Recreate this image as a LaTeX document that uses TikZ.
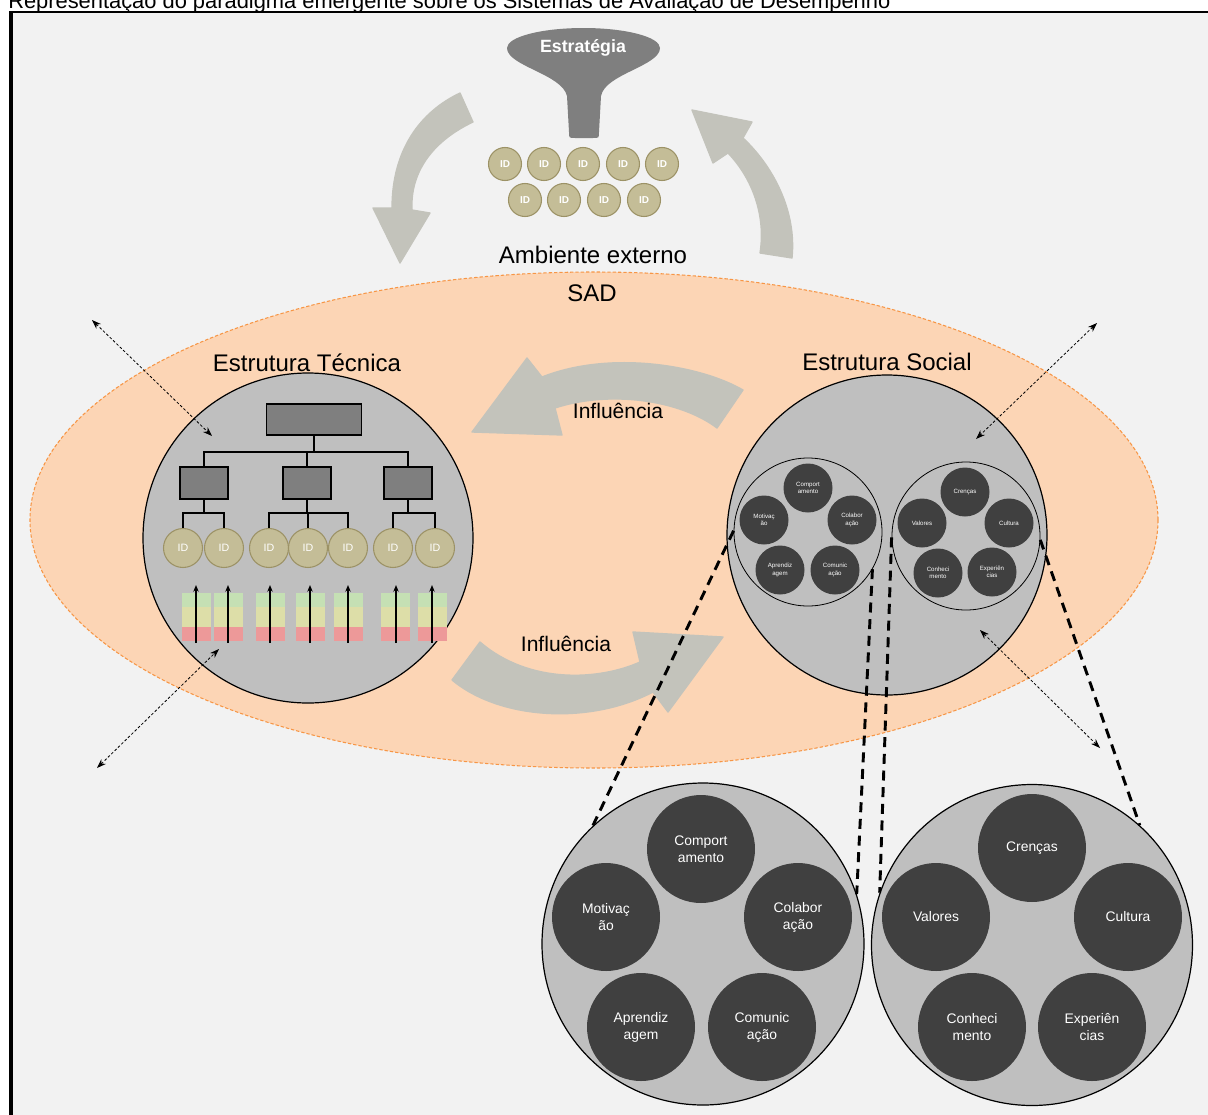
\documentclass[tikz,border=0pt]{standalone}
\usepackage{fontspec}
\setmainfont{Liberation Sans}
\usetikzlibrary{arrows.meta,calc}
\definecolor{bgc}{HTML}{F2F2F2}
\definecolor{peach}{HTML}{FCD5B5}
\definecolor{orangeb}{HTML}{F79646}
\definecolor{arrowg}{HTML}{C3C3BB}
\definecolor{circg}{HTML}{BFBFBF}
\definecolor{darkc}{HTML}{404040}
\definecolor{boxg}{HTML}{7F7F7F}
\definecolor{idfill}{HTML}{C4BD97}
\definecolor{idline}{HTML}{9C9266}
\definecolor{barg}{HTML}{C5E0B4}
\definecolor{bary}{HTML}{DDDEA8}
\definecolor{barr}{HTML}{ED9999}
\begin{document}
\begin{tikzpicture}[x=0.75pt,y=-0.75pt,
  idtop/.style={circle,fill=idfill,draw=idline,line width=0.8pt,minimum size=33*0.75pt,inner sep=0pt,text=white,font=\fontsize{7.5}{8}\selectfont\bfseries},
  idtech/.style={circle,fill=idfill,draw=idline,line width=0.8pt,minimum size=39*0.75pt,inner sep=0pt,text=white,font=\fontsize{8}{9}\selectfont},
  orgbox/.style={rectangle,fill=boxg,draw=black,line width=1pt,inner sep=0pt},
  bigcirc/.style={circle,fill=circg,draw=black,line width=0.9pt,inner sep=0pt},
  ring/.style={circle,draw=black,line width=0.6pt,inner sep=0pt},
  dks/.style={circle,fill=darkc,minimum size=49*0.75pt,inner sep=0pt,text=white,align=center,font=\fontsize{4.6}{5.4}\selectfont},
  dkb/.style={circle,fill=darkc,minimum size=108*0.75pt,inner sep=0pt,text=white,align=center,font=\fontsize{10.4}{12.75}\selectfont},
  lbl/.style={inner sep=0pt,font=\fontsize{18}{20}\selectfont},
  infl/.style={inner sep=0pt,font=\fontsize{15.8}{18}\selectfont},
  garrow/.style={fill=arrowg,draw=arrowg,line width=1pt,line join=round},
  zoomline/.style={draw=black,line width=2.2pt,dash pattern=on 7.5pt off 5pt},
  dotarr/.style={draw=black,line width=0.6pt,dash pattern=on 2pt off 1.5pt,{Stealth[length=7pt,width=5pt]}-{Stealth[length=7pt,width=5pt]}},
  orgline/.style={draw=black,line width=1pt}
]
\useasboundingbox (0,0) rectangle (1208,1115);
\clip (0,0) rectangle (1208,1115);
\fill[white] (0,0) rectangle (1208,1115);
\node[anchor=base west,inner sep=0pt] (title) at (8,8) {\fontsize{16.4}{18}\selectfont Representação do paradigma emergente sobre os Sistemas de Avaliação de Desempenho};
\draw[fill=bgc,line width=1.5pt] (11,11.5) rectangle (1240,1140);
\draw[line width=2.3pt] (11,11) -- (11,1140);

% top curved arrows
\path[garrow] (460,93) .. controls (420,112) and (392,150) .. (392,208) -- (373,208) -- (400,263) -- (430,213) -- (412,210) .. controls (410,170) and (435,140) .. (473,122) -- cycle;
\path[garrow] (760,253) .. controls (766,215) and (752,178) .. (728,153) -- (713,163) -- (692,110) -- (752,122) -- (743,138) .. controls (772,165) and (797,210) .. (792,258) -- cycle;

% funnel
\fill[boxg] (507,48) .. controls (507,37) and (541,28) .. (583.5,28) .. controls (626,28) and (660,37) .. (660,48)
  .. controls (660,66) and (605,74) .. (601,96) -- (599,132) .. controls (599,138) .. (593,138) -- (575,138)
  .. controls (569,138) .. (569,132) -- (567,96) .. controls (562,74) and (507,66) .. (507,48) -- cycle;
\node[inner sep=0pt,text=white,font=\fontsize{13.3}{15}\selectfont\bfseries] (estr) at (583,48) {Estratégia};

% top IDs
\foreach \i/\xx in {1/505,2/544,3/583,4/623,5/662} {\node[idtop] (ta\i) at (\xx,164) {ID};}
\foreach \i/\xx in {1/525,2/564,3/604,4/644} {\node[idtop] (tb\i) at (\xx,200) {ID};}

\node[lbl] (amb) at (593,255) {Ambiente externo};

% SAD ellipse
\draw[fill=peach,draw=orangeb,line width=0.8pt,dash pattern=on 2.5pt off 1.5pt] (594,520) ellipse [x radius=564, y radius=248];
\node[lbl] (sad) at (592,293) {SAD};

% influence arrows
\path[garrow] (743,390) .. controls (700,365) and (610,350) .. (542,377) -- (527,358) -- (472,432) -- (562,435) -- (555,408) .. controls (610,390) and (680,400) .. (717,428) -- cycle;
\path[garrow] (480,642) .. controls (530,685) and (600,680) .. (640,662) -- (633,632) -- (723,637) -- (668,712) -- (653,692) .. controls (590,725) and (500,720) .. (452,680) -- cycle;
\node[infl] (inf1) at (618,411) {Influência};
\node[infl] (inf2) at (566,644) {Influência};

% technical structure
\node[lbl] (tecl) at (307,363) {Estrutura Técnica};
\node[bigcirc,minimum size=330*0.75pt] (tech) at (308,538) {};
\node[orgbox,minimum width=95*0.75pt,minimum height=31*0.75pt] (top) at (314,419.5) {};
\node[orgbox,minimum width=48*0.75pt,minimum height=32*0.75pt] (m1) at (204,483) {};
\node[orgbox,minimum width=48*0.75pt,minimum height=32*0.75pt] (m2) at (307,483) {};
\node[orgbox,minimum width=48*0.75pt,minimum height=32*0.75pt] (m3) at (408,483) {};
\foreach \i/\xx in {1/183,2/224,3/269,4/308,5/348,6/393,7/435} {\node[idtech] (i\i) at (\xx,548) {ID};}
\coordinate (j0) at (314,452);
\coordinate (j1) at (204,513);
\coordinate (j2) at (307,513);
\coordinate (j3) at (408,513);
\draw[orgline] (top.south) -- (j0);
\draw[orgline] (m1.north) |- (j0) -| (m3.north);
\draw[orgline] (m2.north) -- (m2.north |- j0);
\draw[orgline] (m1.south) -- (j1);
\draw[orgline] (i1.north) |- (j1) -| (i2.north);
\draw[orgline] (m2.south) -- (j2);
\draw[orgline] (i3.north) |- (j2) -| (i5.north);
\draw[orgline] (i4.north) -- (i4.north |- j2);
\draw[orgline] (m3.south) -- (j3);
\draw[orgline] (i6.north) |- (j3) -| (i7.north);
\foreach \bx/\ax in {182/196,214/228,256/270,296/310,334/348,381/396,418/432} {
  \fill[barg] (\bx,593) rectangle ++(29,14);
  \fill[bary] (\bx,607) rectangle ++(29,20);
  \fill[barr] (\bx,627) rectangle ++(29,14);
  \draw[line width=0.9pt,-{Stealth[length=5pt,width=4pt]}] (\ax,643) -- (\ax,585);
}

% social structure
\node[lbl] (socl) at (887,362) {Estrutura Social};
\node[bigcirc,minimum size=320*0.75pt] (soc) at (887,535) {};
\node[ring,minimum size=148*0.75pt] (sl) at (808,532) {};
\node[ring,minimum size=148*0.75pt] (sr) at (966,536) {};
\node[dks] (s1) at (808,488) {Comport\\amento};
\node[dks] (s2) at (764,520) {Motivaç\\ão};
\node[dks] (s3) at (852,520) {Colabor\\ação};
\node[dks] (s4) at (780,570) {Aprendiz\\agem};
\node[dks] (s5) at (835,570) {Comunic\\ação};
\node[dks] (r1) at (965,492) {Crenças};
\node[dks] (r2) at (922,523) {Valores};
\node[dks] (r3) at (1009,523) {Cultura};
\node[dks] (r4) at (938,573) {Conheci\\mento};
\node[dks] (r5) at (992,572) {Experiên\\cias};

% bottom enlarged circles
\node[bigcirc,minimum size=322*0.75pt] (bl) at (703,944) {};
\node[bigcirc,minimum size=321*0.75pt] (br) at (1032,945) {};
\node[dkb] (b1) at (701,849) {Comport\\amento};
\node[dkb] (b2) at (606,917) {Motivaç\\ão};
\node[dkb] (b3) at (798,917) {Colabor\\ação};
\node[dkb] (b4) at (641,1027) {Aprendiz\\agem};
\node[dkb] (b5) at (762,1027) {Comunic\\ação};
\node[dkb] (c1) at (1032,848) {Crenças};
\node[dkb] (c2) at (936,917) {Valores};
\node[dkb] (c3) at (1128,917) {Cultura};
\node[dkb] (c4) at (972,1027) {Conheci\\mento};
\node[dkb] (c5) at (1092,1027) {Experiên\\cias};

% zoom lines
\draw[zoomline] (sl.179) -- (bl.133);
\draw[zoomline] (sl.330) -- (bl.18);
\draw[zoomline] (sr.181) -- (br.161);
\draw[zoomline] (sr.357) -- (br.48);

% dotted double arrows
\coordinate (o1) at (92,320);
\coordinate (o2) at (97,768);
\coordinate (o3) at (1097,323);
\coordinate (o4) at (1100,748);
\coordinate (n1) at (212,436);
\coordinate (n2) at (219,649);
\coordinate (n3) at (976,439);
\coordinate (n4) at (980,630);
\draw[dotarr] (o1) -- (n1);
\draw[dotarr] (o2) -- (n2);
\draw[dotarr] (o3) -- (n3);
\draw[dotarr] (n4) -- (o4);
\end{tikzpicture}
\end{document}
